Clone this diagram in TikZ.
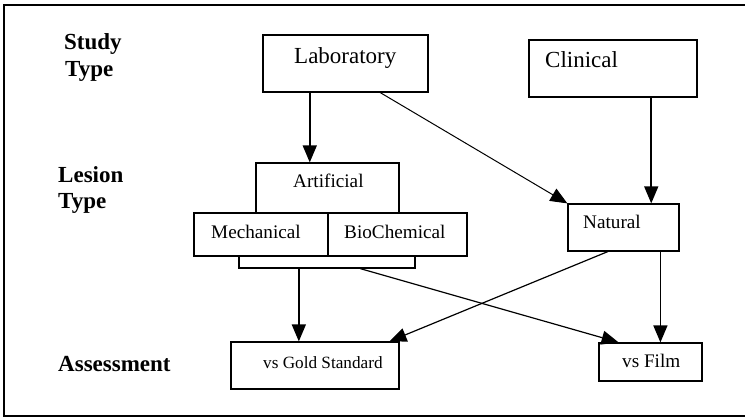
\documentclass[tikz,border=0pt]{standalone}
\usepackage{fontspec}
\setmainfont{Liberation Serif}
\usetikzlibrary{arrows.meta,calc}

\tikzset{
  box/.style={draw, line width=1.2pt, inner sep=0pt},
  txt/.style={inner sep=0pt, anchor=base west},
  big/.style={txt, font=\fontsize{23}{27}\selectfont},
  mid/.style={txt, font=\fontsize{19.2}{23}\selectfont},
  small/.style={txt, font=\fontsize{17.2}{21}\selectfont},
  head/.style={txt, font=\fontsize{23}{27}\selectfont\bfseries},
  arr/.style={-{Triangle[length=17pt,width=14pt]}, line width=1.5pt},
  thinarr/.style={arr, line width=1pt},
}

\begin{document}
\begin{tikzpicture}[x=1pt,y=-1pt]
\useasboundingbox (0,0) rectangle (745,417);

% frame
\draw[line width=1.3pt] (745,5) -- (4,5) -- (4,416) -- (745,416);

% row labels
\node[head] (study) at (64,50) {Study};
\node[head] (studytype) at (65,77) {Type};
\node[head] (lesion) at (58,183) {Lesion};
\node[head] (lesiontype) at (58,208) {Type};
\node[head] (assess) at (58,371) {Assessment};

% boxes
\node[box, minimum width=165pt, minimum height=57pt] (lab) at (345.5,63.5) {};
\node[box, minimum width=168pt, minimum height=57pt] (clin) at (613,68.5) {};
\node[box, minimum width=143pt, minimum height=50pt] (art) at (327.5,188) {};
\node[box, minimum width=134pt, minimum height=43pt] (mech) at (261,234.5) {};
\node[box, minimum width=139pt, minimum height=43pt] (bio) at (397.5,234.5) {};
\node[box, minimum width=176pt, minimum height=12pt] (bar) at (327,262) {};
\node[box, minimum width=111pt, minimum height=47pt] (nat) at (623.5,227.5) {};
\node[box, minimum width=168pt, minimum height=47pt] (gold) at (315,365.5) {};
\node[box, minimum width=103pt, minimum height=38pt] (film) at (650.5,362) {};

% box texts
\node[big] (labtxt) at (294,64) {Laboratory};
\node[big] (clintxt) at (545,68) {Clinical};
\node[mid] (arttxt) at (293,188) {Artificial};
\node[mid] (mechtxt) at (211,239) {Mechanical};
\node[mid] (biotxt) at (344,239) {BioChemical};
\node[mid] (nattxt) at (583,229) {Natural};
\node[mid] (filmtxt) at (622,367) {vs Film};
\node[small] (goldtxt) at (263,368) {vs Gold Standard};

% connector ends
\coordinate (labA) at ($(lab.south west)!0.285!(lab.south east)$);
\coordinate (labB) at ($(lab.south west)!0.709!(lab.south east)$);
\coordinate (clinA) at ($(clin.south west)!0.726!(clin.south east)$);
\coordinate (barA) at ($(bar.south west)!0.341!(bar.south east)$);
\coordinate (barB) at ($(bar.south west)!0.6875!(bar.south east)$);
\coordinate (natA) at ($(nat.south west)!0.36!(nat.south east)$);
\coordinate (natB) at ($(nat.south west)!0.829!(nat.south east)$);
\coordinate (goldA) at ($(gold.north west)!0.94!(gold.north east)$);
\coordinate (filmA) at ($(film.north west)!0.194!(film.north east)$);

% connectors
\draw[arr] (labA) -- (labA |- art.north);
\draw[thinarr] (labB) -- (nat.north west);
\draw[arr] (clinA) -- (clinA |- nat.north);
\draw[arr] (barA) -- (barA |- gold.north);
\draw[thinarr, line width=1.2pt] (barB) -- (filmA);
\draw[thinarr, line width=1.2pt] (natA) -- (goldA);
\draw[arr] (natB) -- (natB |- film.north);

\end{tikzpicture}
\end{document}
